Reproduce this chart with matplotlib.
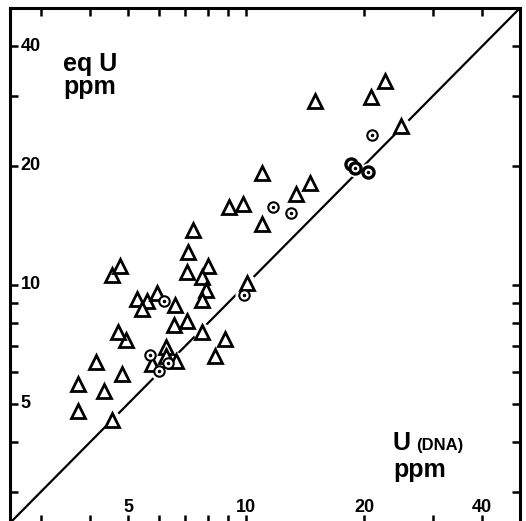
import matplotlib
matplotlib.use("Agg")
import matplotlib.pyplot as plt
import matplotlib.transforms as mtransforms
import numpy as np

# U by DNA (x) against equivalent U (y), both in ppm
tri_x = [3.73, 3.73, 4.15, 4.35, 4.55, 4.83, 4.94, 4.71, 4.55, 4.77,
         5.27, 5.59, 5.43, 5.92, 6.58, 6.54, 5.75, 6.24, 6.24, 6.62,
         7.06, 7.71, 8.82, 8.32, 7.06, 7.98, 7.71, 7.89, 7.71, 7.10,
         7.31, 10.03, 11.0, 9.03, 9.80, 11.0, 13.4, 14.6, 15.0, 20.8,
         22.6, 24.8]
tri_y = [4.80, 5.61, 6.37, 5.39, 4.56, 5.95, 7.24, 7.58, 10.6, 11.16,
         9.22, 9.12, 8.66, 9.55, 8.91, 7.89, 6.30, 6.95, 6.60, 6.41,
         8.08, 7.58, 7.28, 6.60, 10.78, 11.16, 10.47, 9.71, 9.17, 12.1,
         13.74, 10.12, 14.2, 15.7, 15.97, 19.1, 16.9, 18.1, 29.1, 29.8,
         32.7, 25.2]

circ_x = [5.69, 5.99, 6.32, 6.17, 9.91, 11.7, 13.05, 21.0]
circ_y = [6.64, 6.05, 6.34, 9.12, 9.44, 15.7, 15.2, 23.9]

# heavy circles in the cluster near 20 ppm
heavy_x = [18.5, 19.0, 20.5]
heavy_y = [20.2, 19.7, 19.3]

lims = [2.5, 50]
tick_vals = [5, 10, 20, 40]

fig = plt.figure(figsize=(5.26, 5.21), dpi=100)
ax = fig.add_axes([10 / 526, -2 / 521, 510 / 526, 515 / 521])
ax.set_xscale("log")
ax.set_yscale("log")
ax.set_xlim(lims)
ax.set_ylim(lims)

# 1:1 line, broken where points sit on it
ax.plot(lims, lims, color="black", lw=1.6, zorder=1)
all_x = tri_x + circ_x + heavy_x
all_y = tri_y + circ_y + heavy_y
ax.plot(all_x, all_y, "o", color="white", ms=13, mew=0, zorder=2)

ax.plot(tri_x, tri_y, "^", ms=10, mfc="white", mec="black", mew=2.0,
        zorder=3)
ax.plot(circ_x, circ_y, "o", ms=7.5, mfc="white", mec="black", mew=1.5,
        zorder=3)
ax.plot(circ_x, circ_y, ".", ms=3, color="black", zorder=4)
ax.plot(heavy_x, heavy_y, "o", ms=8, mfc="white", mec="black", mew=2.4,
        zorder=3)
ax.plot(heavy_x, heavy_y, ".", ms=3, color="black", zorder=4)

for s in ax.spines.values():
    s.set_linewidth(2.2)

ax.xaxis.set_major_locator(matplotlib.ticker.LogLocator(base=10, subs=np.arange(1, 10)))
ax.yaxis.set_major_locator(matplotlib.ticker.LogLocator(base=10, subs=np.arange(1, 10)))
ax.xaxis.set_minor_locator(matplotlib.ticker.NullLocator())
ax.yaxis.set_minor_locator(matplotlib.ticker.NullLocator())
ax.tick_params(which="both", direction="in", length=6, width=1.8,
               top=True, right=True, labelbottom=False, labelleft=False)

bold = dict(family="Liberation Sans", weight="bold", color="black")
ytrans = mtransforms.blended_transform_factory(ax.transAxes, ax.transData)
xtrans = mtransforms.blended_transform_factory(ax.transData, ax.transAxes)
for v in tick_vals:
    ax.text(0.021, v, str(v), transform=ytrans, ha="left", va="center",
            fontsize=13, **bold)
    ax.text(v, 0.031, str(v), transform=xtrans, ha="center", va="center",
            fontsize=13, **bold)

fig.text(63 / 526, 1 - 71 / 521, "eq U", fontsize=18, va="baseline", **bold)
fig.text(63 / 526, 1 - 94 / 521, "ppm", fontsize=18, va="baseline", **bold)
fig.text(393 / 526, 1 - 450 / 521, "U", fontsize=18, va="baseline", **bold)
fig.text(416 / 526, 1 - 450 / 521, "(DNA)", fontsize=12, va="baseline", **bold)
fig.text(393 / 526, 1 - 477 / 521, "ppm", fontsize=18, va="baseline", **bold)

fig.savefig("out.png", dpi=100)
plt.close(fig)
